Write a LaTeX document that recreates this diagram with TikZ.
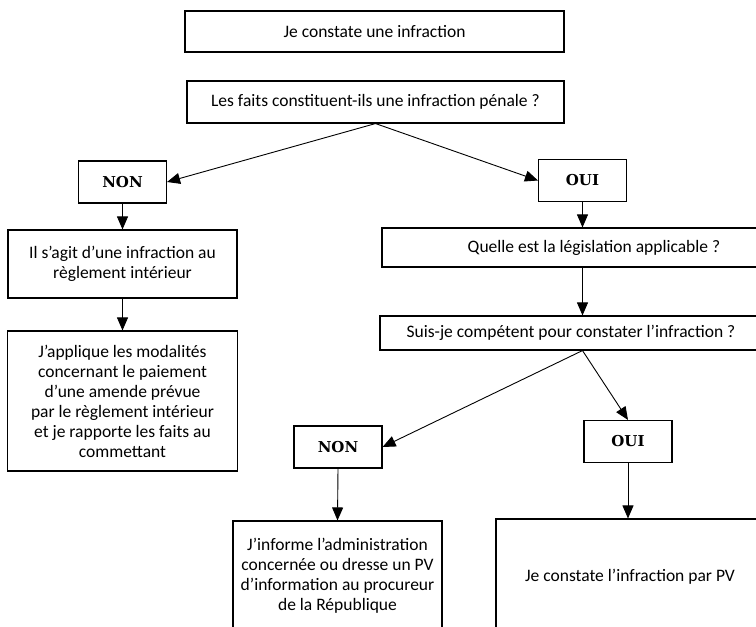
\documentclass[tikz,border=0pt]{standalone}
\usepackage{fontspec}
\setmainfont{Carlito}
\newfontfamily\slabfont{DejaVu Serif}
\usetikzlibrary{arrows.meta}

\begin{document}
\begin{tikzpicture}[x=1pt, y=-1pt,
        box/.style={draw, line width=1.1pt, align=center, inner sep=0pt, font=\fontsize{17.5}{20}\selectfont},
        choice/.style={draw, line width=1.1pt, inner sep=0pt, minimum width=88pt, minimum height=42pt, font=\slabfont\bfseries\fontsize{15}{17}\selectfont},
        flow/.style={-{Triangle[length=13pt, width=11pt]}, line width=0.9pt}]

        \useasboundingbox (0,0) rectangle (756,627);

        \node[box, minimum width=379pt, minimum height=41pt] (start) at (374.5,31.5) {Je constate une infraction};
        \node[box, minimum width=377pt, minimum height=42pt] (penal) at (375.5,102) {Les faits constituent-ils une infraction pénale ?};

        \node[choice] (nonA) at (122.5,182) {NON};
        \node[choice] (ouiA) at (582.5,180.5) {OUI};

        \node[box, minimum width=229pt, minimum height=68pt] (reglement) at (122.5,264) {Il s’agit d’une infraction au\\règlement intérieur};
        \node[box, minimum width=230pt, minimum height=140pt] (amende) at (122.5,401) {J’applique les modalités\\concernant le paiement\\d’une amende prévue\\par le règlement intérieur\\et je rapporte les faits au\\commettant};

        \node[box, minimum width=424pt, minimum height=39pt] (legis) at (594,247.5) {Quelle est la législation applicable ?};
        \node[box, minimum width=382pt, minimum height=34pt] (competent) at (571,333) {Suis-je compétent pour constater l’infraction ?};

        \node[choice] (nonB) at (338,447) {NON};
        \node[choice] (ouiB) at (628,441.5) {OUI};

        \node[box, minimum width=209pt, minimum height=110pt] (informe) at (337.5,576) {J’informe l’administration\\concernée ou dresse un PV\\d’information au procureur\\de la République};
        \node[box, minimum width=268pt, minimum height=116pt] (pv) at (630,577) {Je constate l’infraction par PV};

        \coordinate (fork) at (ouiA.south |- competent.south);

        \draw[flow] (penal.south) -- (nonA.east);
        \draw[flow] (penal.south) -- (ouiA.west);
        \draw[flow] (nonA.south) -- (reglement.north);
        \draw[flow] (reglement.south) -- (amende.north);
        \draw[flow] (ouiA.south) -- (ouiA.south |- legis.north);
        \draw[flow] (ouiA.south |- legis.south) -- (ouiA.south |- competent.north);
        \draw[flow] (fork) -- (nonB.east);
        \draw[flow] (fork) -- (ouiB.north);
        \draw[flow] (nonB.south) -- (informe.north);
        \draw[flow] (ouiB.south) -- (ouiB.south |- pv.north);
\end{tikzpicture}
\end{document}
